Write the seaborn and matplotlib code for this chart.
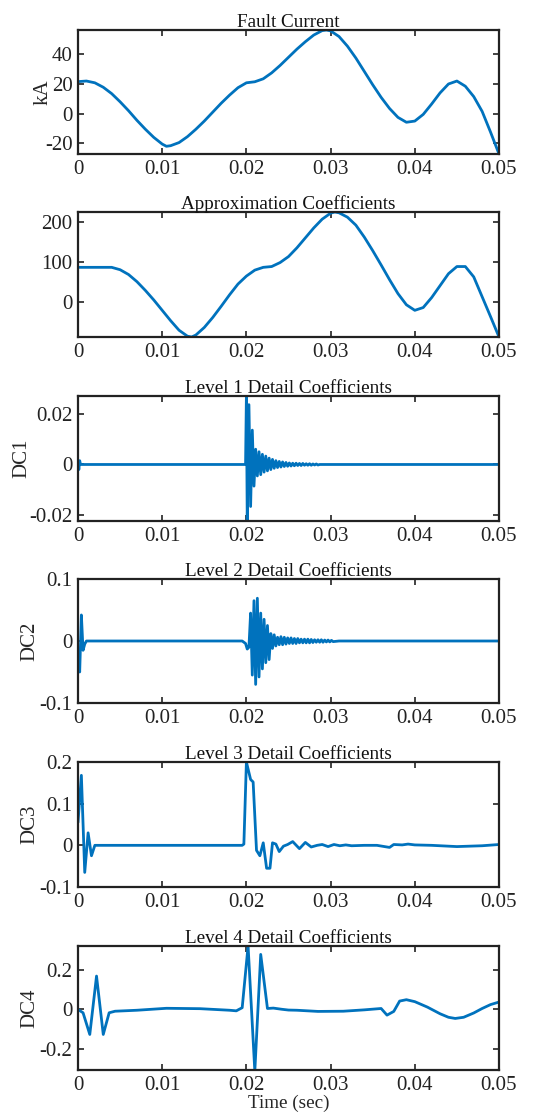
import numpy as np
import pandas as pd
import matplotlib
matplotlib.use("Agg")
import matplotlib.pyplot as plt
import seaborn as sns

# ---------------- data ----------------
fc_t = [0.000, 0.001, 0.002, 0.003, 0.004, 0.005, 0.006, 0.007, 0.008, 0.009,
        0.010, 0.0105, 0.011, 0.012, 0.013, 0.014, 0.015, 0.016, 0.017, 0.018,
        0.019, 0.020, 0.021, 0.022, 0.023, 0.024, 0.025, 0.026, 0.027, 0.028,
        0.029, 0.0295, 0.030, 0.031, 0.032, 0.033, 0.034, 0.035, 0.036, 0.037,
        0.038, 0.039, 0.040, 0.041, 0.042, 0.043, 0.044, 0.045, 0.046, 0.047,
        0.048, 0.049, 0.050]
fc_v = [21.6, 22.0, 20.8, 17.8, 13.5, 8.0, 2.0, -4.5, -10.5, -16.0,
        -20.5, -22.0, -21.6, -19.5, -15.5, -10.5, -5.0, 1.0, 7.0, 12.5,
        17.5, 20.8, 21.5, 23.5, 27.5, 32.5, 38.0, 43.5, 48.5, 53.0,
        56.0, 56.4, 55.8, 52.0, 45.5, 37.5, 28.5, 19.5, 11.0, 3.5,
        -2.5, -5.8, -5.0, -0.5, 6.5, 14.0, 20.0, 22.0, 18.5, 11.5,
        1.5, -12.5, -27.2]

ac_t = [0.000, 0.001, 0.002, 0.003, 0.004, 0.005, 0.006, 0.007, 0.008, 0.009,
        0.010, 0.011, 0.012, 0.013, 0.0135, 0.014, 0.015, 0.016, 0.017, 0.018,
        0.019, 0.020, 0.021, 0.022, 0.023, 0.024, 0.025, 0.026, 0.027, 0.028,
        0.029, 0.030, 0.0305, 0.031, 0.032, 0.033, 0.034, 0.035, 0.036, 0.037,
        0.038, 0.039, 0.040, 0.041, 0.042, 0.043, 0.044, 0.045, 0.046, 0.047,
        0.048, 0.049, 0.050]
ac_v = [86, 86, 86, 86, 86, 80, 68, 50, 28, 4,
        -22, -48, -72, -87, -89, -84, -65, -40, -12, 17,
        44, 64, 79, 86, 88, 98, 113, 135, 160, 185,
        207, 222, 225, 223, 212, 192, 162, 128, 92, 55,
        20, -8, -22, -15, 10, 40, 70, 88, 88, 62,
        12, -38, -89]

dc1_t = [0.0000, 0.0001, 0.0002, 0.0003, 0.0199, 0.0200, 0.0201,
         0.0203, 0.0205, 0.0207, 0.0209, 0.0211, 0.0213, 0.0215, 0.0217,
         0.0219, 0.0221, 0.0223, 0.0225, 0.0227, 0.0229, 0.0231, 0.0233,
         0.0235, 0.0237, 0.0239, 0.0241, 0.0243, 0.0245, 0.0247, 0.0249,
         0.0251, 0.0253, 0.0255, 0.0257, 0.0259, 0.0261, 0.0263, 0.0265,
         0.0267, 0.0269, 0.0271, 0.0273, 0.0275, 0.0277, 0.0279, 0.0281,
         0.0283, 0.0285, 0.0287, 0.0500]
dc1_v = [0.0010, -0.0020, 0.0015, 0.0000, 0.0000, 0.0269, -0.0222,
         0.0235, -0.0165, 0.0135, -0.0085, 0.0060, -0.0045, 0.0050, -0.0040,
         0.0040, -0.0030, 0.0033, -0.0025, 0.0025, -0.0020, 0.0020, -0.0015,
         0.0015, -0.0012, 0.0012, -0.0010, 0.0010, -0.0008, 0.0008, -0.0007,
         0.0006, -0.0006, 0.0005, -0.0005, 0.0005, -0.0004, 0.0004, -0.0004,
         0.0004, -0.0003, 0.0003, -0.0003, 0.0003, -0.0003, 0.0002, -0.0002,
         0.0002, -0.0002, 0.0000, 0.0000]

dc2_t = [0.0000, 0.0002, 0.0004, 0.0006, 0.0008, 0.0010, 0.0195, 0.0199,
         0.0201, 0.0203, 0.0205, 0.0207, 0.0209, 0.0211, 0.0213, 0.0215,
         0.0217, 0.0219, 0.0221, 0.0223, 0.0225, 0.0227, 0.0229, 0.0231,
         0.0233, 0.0235, 0.0237, 0.0239, 0.0241, 0.0243, 0.0245, 0.0247,
         0.0249, 0.0251, 0.0253, 0.0255, 0.0257, 0.0259, 0.0261, 0.0263,
         0.0265, 0.0267, 0.0269, 0.0271, 0.0273, 0.0275, 0.0277, 0.0279,
         0.0281, 0.0283, 0.0285, 0.0287, 0.0289, 0.0291, 0.0293, 0.0295,
         0.0297, 0.0299, 0.0301, 0.0303, 0.0310, 0.0500]
dc2_v = [-0.015, -0.050, 0.042, -0.015, -0.005, 0.000, 0.000, -0.004,
         -0.013, -0.010, 0.045, -0.055, 0.065, -0.070, 0.069, -0.058,
         0.045, -0.045, 0.035, -0.035, 0.025, -0.030, 0.012, -0.012,
         0.010, -0.008, 0.006, -0.006, 0.007, -0.006, 0.006, -0.005,
         0.005, -0.004, 0.005, -0.004, 0.004, -0.004, 0.004, -0.003,
         0.003, -0.003, 0.003, -0.003, 0.003, -0.003, 0.0025, -0.0025,
         0.002, -0.002, 0.002, -0.002, 0.002, -0.002, 0.0015, -0.0015,
         0.0015, -0.0015, 0.001, -0.001, 0.000, 0.000]

dc3_t = [0.0000, 0.0004, 0.0008, 0.0012, 0.0016, 0.0020, 0.0195, 0.0197,
         0.0200, 0.0205, 0.0208, 0.0212, 0.0216, 0.0220, 0.0224, 0.0228,
         0.0231, 0.0235, 0.0239, 0.0244, 0.0249, 0.0255, 0.0263, 0.0270,
         0.0277, 0.0284, 0.0290, 0.0297, 0.0304, 0.0311, 0.0318, 0.0325,
         0.0340, 0.0355, 0.0370, 0.0375, 0.0385, 0.0392, 0.0400, 0.0420,
         0.0450, 0.0480, 0.0500]
dc3_v = [0.055, 0.168, -0.065, 0.030, -0.025, 0.000, 0.000, 0.003,
         0.200, 0.158, 0.152, -0.012, -0.025, 0.006, -0.055, -0.055,
         0.006, 0.003, -0.015, -0.002, 0.002, 0.009, -0.008, 0.007,
         -0.004, 0.000, 0.002, -0.003, 0.002, -0.001, 0.001, -0.001,
         0.000, 0.000, -0.005, 0.002, 0.001, 0.003, 0.001, 0.000,
         -0.003, -0.001, 0.002]

dc4_t = [0.0000, 0.0006, 0.0014, 0.0022, 0.0030, 0.0037, 0.0044, 0.0070,
         0.0105, 0.0145, 0.0180, 0.0188, 0.0195, 0.0202, 0.0210, 0.0217,
         0.0225, 0.0232, 0.0242, 0.0250, 0.0260, 0.0285, 0.0315, 0.0340,
         0.0360, 0.0367, 0.0375, 0.0382, 0.0390, 0.0400, 0.0415, 0.0430,
         0.0440, 0.0448, 0.0458, 0.0470, 0.0480, 0.0490, 0.0500]
dc4_v = [0.000, -0.017, -0.128, 0.171, -0.128, -0.017, -0.009, -0.004,
         0.006, 0.004, -0.004, -0.007, 0.009, 0.325, -0.316, 0.282,
         0.005, 0.007, 0.001, -0.003, -0.004, -0.010, -0.009, -0.002,
         0.005, -0.029, -0.010, 0.043, 0.050, 0.040, 0.012, -0.022,
         -0.040, -0.046, -0.040, -0.018, 0.005, 0.025, 0.038]

titles = ["Fault Current", "Approximation Coefficients",
          "Level 1 Detail Coefficients", "Level 2 Detail Coefficients",
          "Level 3 Detail Coefficients", "Level 4 Detail Coefficients"]
ylabels = ["kA", "", "DC1", "DC2", "DC3", "DC4"]
xticks = [0, 0.01, 0.02, 0.03, 0.04, 0.05]
xticklabels = ["0", "0.01", "0.02", "0.03", "0.04", "0.05"]
yticks = [[-20, 0, 20, 40], [0, 100, 200], [-0.02, 0, 0.02],
          [-0.1, 0, 0.1], [-0.1, 0, 0.1, 0.2], [-0.2, 0, 0.2]]
yticklabels = [["-20", "0", "20", "40"], ["0", "100", "200"],
               ["-0.02", "0", "0.02"], ["-0.1", "0", "0.1"],
               ["-0.1", "0", "0.1", "0.2"], ["-0.2", "0", "0.2"]]
ylims = [(-27.2, 56.4), (-89, 225), (-0.0222, 0.0269), (-0.1, 0.1),
         (-0.1, 0.2), (-0.31, 0.325)]

series = [(fc_t, fc_v), (ac_t, ac_v), (dc1_t, dc1_v), (dc2_t, dc2_v),
          (dc3_t, dc3_v), (dc4_t, dc4_v)]

# ---------------- style ----------------
sns.set_style("ticks")
plt.rcParams['font.family'] = ['Liberation Serif', 'DejaVu Serif']
plt.rcParams['axes.unicode_minus'] = False

W, H = 552, 1119
fig = plt.figure(figsize=(W / 100, H / 100), dpi=100)
fig.patch.set_facecolor("white")

left_px, right_px = 78, 499
boxes = [(30, 154), (212, 337), (396, 521), (579, 703), (762, 887), (946, 1070)]
label_right_px = [53, None, 31, 39, 39, 39]
line_color = "#0072BD"
fs_tick = 15
fs_title = 13.8
fs_label = 15

for i, ((top, bot), (t, v)) in enumerate(zip(boxes, series)):
    ax = fig.add_axes([left_px / W, 1 - bot / H, (right_px - left_px) / W, (bot - top) / H])
    df = pd.DataFrame({"t": t, "v": v})
    sns.lineplot(data=df, x="t", y="v", ax=ax, color=line_color, linewidth=2.0,
                 sort=False, estimator=None)
    ax.set_xlim(0, 0.05)
    ax.set_ylim(*ylims[i])
    ax.set_xticks(xticks)
    ax.set_xticklabels(xticklabels, fontsize=fs_tick)
    ax.set_yticks(yticks[i])
    ax.set_yticklabels(yticklabels[i], fontsize=fs_tick)
    ax.set_title(titles[i], fontsize=fs_title, pad=2.5, color="#111111")
    ax.set_ylabel(ylabels[i], fontsize=fs_label)
    if label_right_px[i] is not None:
        ax.yaxis.set_label_coords((label_right_px[i] - left_px) / (right_px - left_px), 0.5)
    ax.set_xlabel("Time (sec)" if i == 5 else "", fontsize=fs_title, labelpad=0)
    for s in ax.spines.values():
        s.set_visible(True)
        s.set_linewidth(1.6)
        s.set_color("#222222")
    ax.tick_params(direction="in", length=4, width=1.2, top=True, right=True,
                   colors="#222222", labelcolor="#222222", pad=4)
    ax.set_facecolor("white")

fig.savefig("out.png", dpi=100, facecolor="white")
